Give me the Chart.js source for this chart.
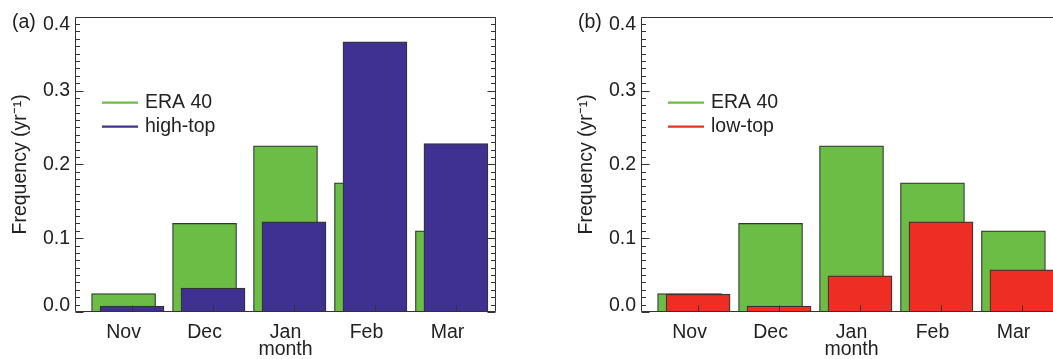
<!DOCTYPE html>
<html>
<head>
<meta charset="utf-8">
<script src="https://cdn.jsdelivr.net/npm/chart.js@4/dist/chart.umd.min.js"></script>
<style>
  html, body { margin: 0; padding: 0; background: #fff; }
  #wrap { position: relative; width: 1053px; height: 359px; overflow: hidden; }
  canvas { position: absolute; top: 0; }
  #panelA { left: 0; }
  #panelB { left: 566px; }
</style>
</head>
<body>
<div id="wrap">
  <canvas id="panelA" width="500" height="359"></canvas>
  <canvas id="panelB" width="500" height="359"></canvas>
</div>
<script>
// values
const months = ["Nov", "Dec", "Jan", "Feb", "Mar"];
const era40 = [0.025, 0.120, 0.225, 0.175, 0.110];
const highTop = [0.008, 0.0325, 0.122, 0.366, 0.228];
const lowTop = [0.024, 0.008, 0.049, 0.122, 0.057];
const yTicks = [0.0, 0.1, 0.2, 0.3, 0.4];

const GREEN = "#6cbd45";
const BLUE = "#3e3191";
const RED = "#ee2d24";
const AXIS = "#333";
const TEXT = "#222";
const FONT = "'Liberation Sans', Arial, Helvetica, sans-serif";

Chart.defaults.font.family = FONT;
Chart.defaults.font.size = 19.5;
Chart.defaults.color = TEXT;

function seg(ctx, x1, y1, x2, y2) {
  ctx.moveTo(x1, y1);
  ctx.lineTo(x2, y2);
}

// axis box, inward ticks, legend and panel tag
const figureBits = {
  id: "figureBits",
  beforeDraw(chart) {
    // keep the end labels inside the axis range like the original
    const items = chart.scales.y.getLabelItems();
    if (items.length && !items[0]._shifted) {
      items[0].options.translation[1] -= 6;
      items[items.length - 1].options.translation[1] += 8;
      items[0]._shifted = true;
    }
  },
  afterDatasetsDraw(chart, args, opts) {
    const { ctx, chartArea: a, scales } = chart;
    const y = scales.y, x2 = scales.x2;
    const L = Math.round(a.left) + 0.5, R = Math.round(a.right) - 0.5;
    const T = Math.round(a.top) + 0.5, B = Math.round(a.bottom) - 0.5;
    ctx.save();
    ctx.strokeStyle = AXIS;
    ctx.lineWidth = 1;
    ctx.beginPath();
    seg(ctx, L, T, R, T);
    seg(ctx, R, T, R, B);
    seg(ctx, L, B, R, B);
    seg(ctx, L, T, L, B);
    for (let k = 0; k <= 40; k++) {
      const py = Math.round(y.getPixelForValue(k / 100)) + 0.5;
      const len = k % 10 === 0 ? 8 : 4.5;
      seg(ctx, L, py, L + len, py);
      seg(ctx, R, py, R - len, py);
    }
    months.forEach((m, i) => {
      const px = Math.round(x2.getPixelForValue(i)) + 0.5;
      seg(ctx, px, B, px, B - 6);
    });
    ctx.stroke();

    // legend
    ctx.font = "19.5px " + FONT;
    ctx.textBaseline = "middle";
    ctx.textAlign = "left";
    chart.data.datasets.forEach((ds, i) => {
      const ly = a.top + 86 + i * 24;
      ctx.strokeStyle = ds.backgroundColor;
      ctx.lineWidth = 2.2;
      ctx.beginPath();
      seg(ctx, a.left + 27, ly, a.left + 63, ly);
      ctx.stroke();
      ctx.fillStyle = TEXT;
      ctx.fillText(ds.label, a.left + 70, ly);
    });

    // panel tag
    ctx.fillText(opts.tag, 12, 23);
    ctx.restore();
  }
};

function makePanel(id, tag, otherLabel, otherValues, otherColor) {
  new Chart(document.getElementById(id), {
    type: "bar",
    data: {
      datasets: [
        {
          label: "ERA 40",
          data: era40.map((v, i) => ({ x: i, y: v })),
          backgroundColor: GREEN,
          borderColor: AXIS,
          borderWidth: 1.2,
          borderSkipped: false,
          xAxisID: "x",
          order: 2
        },
        {
          label: otherLabel,
          data: otherValues.map((v, i) => ({ x: i, y: v })),
          backgroundColor: otherColor,
          borderColor: AXIS,
          borderWidth: 1.2,
          borderSkipped: false,
          xAxisID: "x2",
          order: 1
        }
      ]
    },
    options: {
      responsive: false,
      animation: false,
      grouped: false,
      barThickness: 64,
      maxBarThickness: 64,
      layout: { padding: { top: 13.3, right: 4, bottom: 0, left: 0 } },
      plugins: {
        legend: { display: false },
        tooltip: { enabled: false },
        figureBits: { tag: tag }
      },
      scales: {
        x: {
          type: "linear",
          offset: false,
          min: -0.6,
          max: 4.6,
          grid: { display: false, drawTicks: false },
          border: { display: false },
          afterBuildTicks: (axis) => {
            axis.ticks = months.map((m, i) => ({ value: i }));
          },
          afterFit: (axis) => { axis.height = 47; },
          ticks: {
            padding: 9,
            maxRotation: 0,
            autoSkip: false,
            callback: (v) => months[v]
          },
          title: {
            display: true,
            text: "month",
            font: { size: 19.5, lineHeight: 1 },
            padding: 0
          }
        },
        x2: {
          type: "linear",
          display: false,
          offset: false,
          min: -0.705,
          max: 4.495
        },
        y: {
          min: 0,
          max: 0.4,
          grid: { display: false, drawTicks: false },
          border: { display: false },
          afterBuildTicks: (axis) => {
            axis.ticks = yTicks.map((v) => ({ value: v }));
          },
          afterFit: (axis) => { axis.width = 75; },
          ticks: {
            padding: 5,
            callback: (v) => v.toFixed(1)
          },
          title: {
            display: true,
            text: "Frequency (yr⁻¹)",
            font: { size: 19.5, lineHeight: 1 },
            padding: { top: 11, bottom: 0 }
          }
        }
      }
    },
    plugins: [figureBits]
  });
}

makePanel("panelA", "(a)", "high-top", highTop, BLUE);
makePanel("panelB", "(b)", "low-top", lowTop, RED);
</script>
</body>
</html>
